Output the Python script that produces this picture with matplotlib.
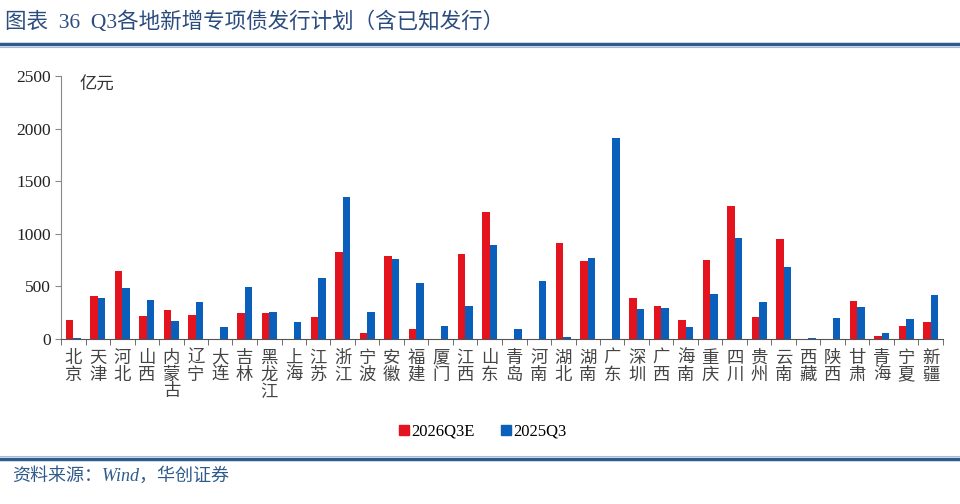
import matplotlib
matplotlib.use("Agg")
import matplotlib.pyplot as plt
import numpy as np
from matplotlib.lines import Line2D

plt.rcParams['font.family'] = ['Liberation Serif', 'Noto Sans CJK SC', 'DejaVu Sans']

regions = ["北京", "天津", "河北", "山西", "内蒙古", "辽宁", "大连", "吉林", "黑龙江", "上海",
           "江苏", "浙江", "宁波", "安徽", "福建", "厦门", "江西", "山东", "青岛", "河南",
           "湖北", "湖南", "广东", "深圳", "广西", "海南", "重庆", "四川", "贵州", "云南",
           "西藏", "陕西", "甘肃", "青海", "宁夏", "新疆"]
q3_2026e = [177, 408, 646, 218, 272, 231, 0, 244, 244, 0,
            206, 829, 54, 785, 98, 0, 810, 1209, 0, 0,
            915, 744, 0, 386, 316, 177, 753, 1263, 206, 950,
            0, 0, 361, 32, 127, 158]
q3_2025 = [13, 386, 481, 367, 168, 351, 117, 491, 253, 158,
           576, 1348, 253, 756, 535, 127, 316, 896, 98, 551,
           22, 766, 1912, 282, 291, 117, 430, 959, 351, 680,
           13, 196, 301, 57, 187, 421]
series_names = ["2026Q3E", "2025Q3"]
yticks = [0, 500, 1000, 1500, 2000, 2500]

RED = "#E3141E"
BLUE = "#0A5FBA"
TITLE_C = "#2B4C7E"
LINE_C = "#2F5A8C"

fig = plt.figure(figsize=(9.6, 5.04), dpi=100)
fig.patch.set_facecolor("white")
ax = fig.add_axes([61/960, 1-339/504, (943-61)/960, (339-76)/504])

x = np.arange(len(regions))
w = 0.31
ax.bar(x - w/2, q3_2026e, width=w, color=RED, label=series_names[0])
ax.bar(x + w/2, q3_2025, width=w, color=BLUE, label=series_names[1])

ax.set_xlim(-0.5, len(regions) - 0.5)
ax.set_ylim(0, 2500)
ax.set_yticks(yticks)
ax.set_yticklabels([str(v) for v in yticks], fontsize=12.5, color="#222222")
for s in ["top", "right"]:
    ax.spines[s].set_visible(False)
ax.spines["left"].set_color("#888888")
ax.spines["bottom"].set_color("#555555")
ax.tick_params(axis="y", length=4, color="#888888", pad=3)

ax.set_xticks(np.arange(-0.5, len(regions)), minor=True)
ax.set_xticks(x)
ax.set_xticklabels(["\n".join(r) for r in regions], fontsize=12.5, color="#444444",
                   linespacing=0.92, va="top")
ax.tick_params(axis="x", which="major", length=0, pad=7)
ax.tick_params(axis="x", which="minor", length=4, color="#555555", direction="out")
for lab in ax.get_xticklabels():
    lab.set_family(["Noto Sans CJK SC"])

ax.text(80/960, 1-85/504, "亿元", transform=fig.transFigure, fontsize=12.5,
        family=["Noto Sans CJK SC"], color="#333333", va="center")

handles = [Line2D([], [], marker="s", linestyle="", color=RED, markersize=7),
           Line2D([], [], marker="s", linestyle="", color=BLUE, markersize=7)]
fig.legend(handles, series_names, loc="center", bbox_to_anchor=(482/960, 1-432/504),
           ncol=2, frameon=False, fontsize=12, handletextpad=0.05, columnspacing=1.5,
           handlelength=0.8)

# title
fig.text(5/960, 1-22/504, "图表  36  Q3各地新增专项债发行计划（含已知发行）", fontsize=15.5,
         color=TITLE_C, va="center", ha="left")
fig.add_artist(Line2D([0, 1], [1-43.5/504, 1-43.5/504], transform=fig.transFigure,
                      color=LINE_C, linewidth=2.5))
fig.add_artist(Line2D([0, 1], [1-46.5/504, 1-46.5/504], transform=fig.transFigure,
                      color="#A8BCD6", linewidth=0.8))
fig.add_artist(Line2D([0, 1], [1-458.5/504, 1-458.5/504], transform=fig.transFigure,
                      color=LINE_C, linewidth=2.5))
fig.add_artist(Line2D([0, 1], [1-455.5/504, 1-455.5/504], transform=fig.transFigure,
                      color="#A8BCD6", linewidth=0.8))
fig.text(12/960, 1-476/504, "资料来源：Wind，华创证券", fontsize=13, color=LINE_C,
         va="center", ha="left", style="italic")

fig.savefig("out.png", dpi=100, facecolor="white")
